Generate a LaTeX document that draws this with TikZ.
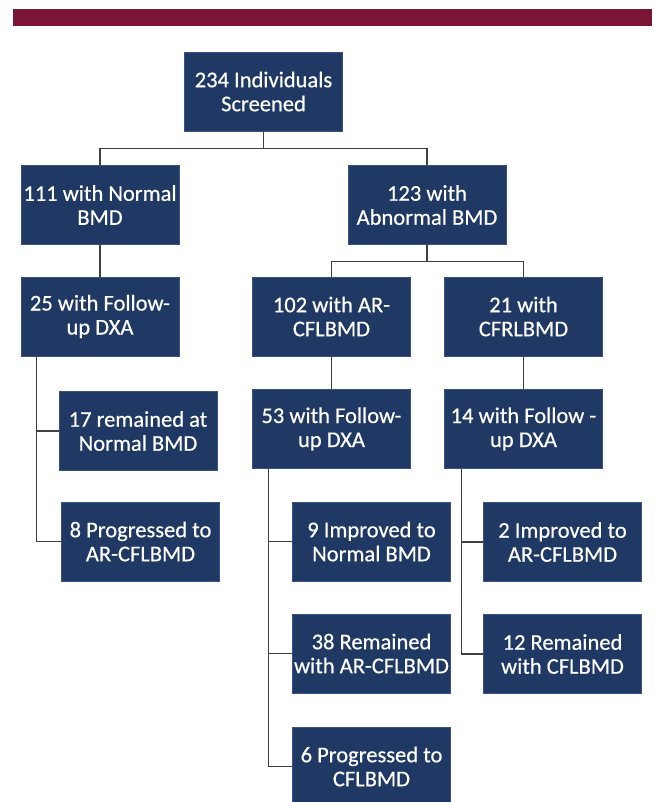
\documentclass[tikz,border=0pt]{standalone}
\usepackage{fontspec}
\setmainfont{Carlito}[FakeBold=0.5]
\usetikzlibrary{calc}
\definecolor{boxblue}{HTML}{1F3864}
\definecolor{boxedge}{HTML}{3A5283}
\definecolor{barred}{HTML}{7A1633}
\definecolor{linegray}{HTML}{404040}
\tikzset{
  box/.style={rectangle, fill=boxblue, draw=boxedge, line width=0.6pt,
    minimum width=158pt, minimum height=79pt, inner sep=0pt,
    align=center, text=white, font=\fontsize{22.5}{24}\selectfont},
  link/.style={draw=linegray, line width=1.3pt}
}
\begin{document}
\begin{tikzpicture}[x=1pt,y=1pt]
\useasboundingbox (0,0) rectangle (653,-802);
\fill[barred] (13,-9) rectangle (652,-26);

\node[box] (root) at (263.5,-91.5) {234 Individuals\\Screened};
\node[box] (n111) at (100,-205) {111 with Normal\\BMD};
\node[box] (n123) at (427,-205) {123 with\\Abnormal BMD};
\node[box] (n25) at (100,-316.5) {25 with Follow-\\up DXA};
\node[box] (n102) at (331.5,-316.5) {102 with AR-\\CFLBMD};
\node[box] (n21) at (523.5,-316.5) {21 with\\CFRLBMD};
\node[box] (n53) at (331.5,-429) {53 with Follow-\\up DXA};
\node[box] (n14) at (523.5,-429) {14 with Follow -\\up DXA};
\node[box] (n17) at (138,-431) {17 remained at\\Normal BMD};
\node[box] (n8) at (140.5,-541.5) {8 Progressed to\\AR-CFLBMD};
\node[box] (n9) at (371.5,-541.5) {9 Improved to\\Normal BMD};
\node[box] (n38) at (371.5,-653.5) {38 Remained\\with AR-CFLBMD};
\node[box] (n6) at (371.5,-766.5) {6 Progressed to\\CFLBMD};
\node[box] (n2) at (562.5,-542) {2 Improved to\\AR-CFLBMD};
\node[box] (n12) at (562.5,-654) {12 Remained\\with CFLBMD};

\draw[link] (root.south) -- ++(0,-17) -| (n111.north);
\draw[link] (root.south) -- ++(0,-17) -| (n123.north);
\draw[link] (n111.south) -- (n25.north);
\draw[link] (n123.south) -- ++(0,-17) -| (n102.north);
\draw[link] (n123.south) -- ++(0,-17) -| (n21.north);
\draw[link] (n102.south) -- (n53.north);
\draw[link] (n21.south) -- (n14.north);
\draw[link] ([xshift=16pt]n25.south west) |- (n17.west);
\draw[link] ([xshift=16pt]n25.south west) |- (n8.west);
\draw[link] ([xshift=16pt]n53.south west) |- (n9.west);
\draw[link] ([xshift=16pt]n53.south west) |- (n38.west);
\draw[link] ([xshift=16pt]n53.south west) |- (n6.west);
\draw[link] ([xshift=17pt]n14.south west) |- (n2.west);
\draw[link] ([xshift=17pt]n14.south west) |- (n12.west);
\end{tikzpicture}
\end{document}
